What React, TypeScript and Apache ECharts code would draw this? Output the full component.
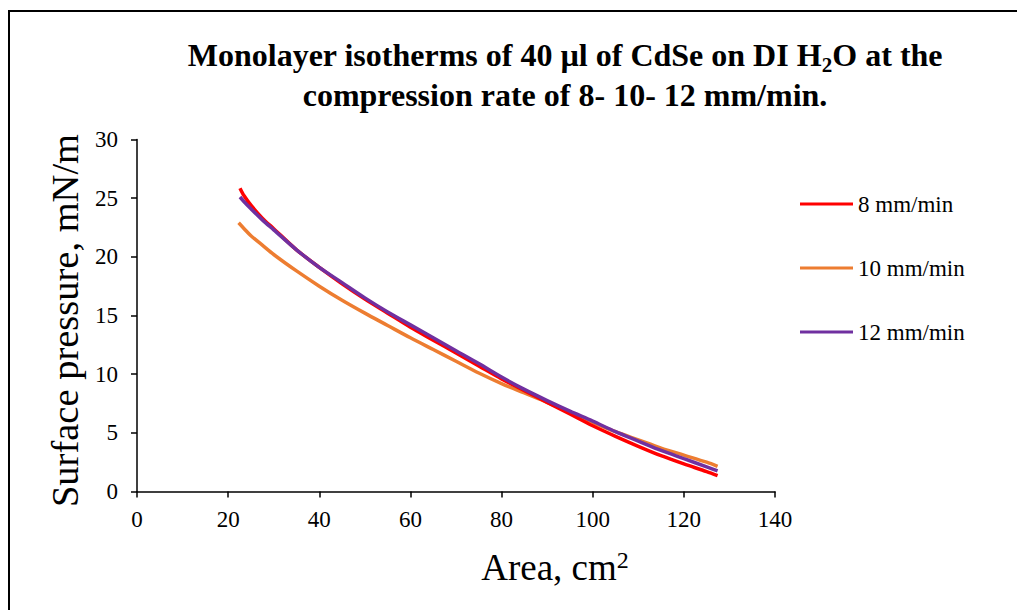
import React, { useEffect, useRef } from "react";
import * as echarts from "echarts";

const FONT = "'Liberation Serif', 'Times New Roman', serif";

const seriesNames = ["8 mm/min", "10 mm/min", "12 mm/min"];
const seriesColors = ["#FF0000", "#ED7D31", "#7030A0"];

const areaRed = [22.6, 23.5, 25, 27.5, 30, 35, 40, 45, 50, 55, 60, 65, 70, 75, 80, 85, 90, 95, 100, 105, 110, 115, 120, 125, 127.4];
const pressureRed = [25.85, 25.2, 24.4, 23.3, 22.4, 20.6, 19.1, 17.7, 16.4, 15.2, 14.0, 12.9, 11.8, 10.7, 9.6, 8.6, 7.6, 6.6, 5.6, 4.7, 3.85, 3.05, 2.35, 1.7, 1.35];

const areaOrange = [22.3, 23.5, 25, 27.5, 30, 35, 40, 45, 50, 55, 60, 65, 70, 75, 80, 85, 90, 95, 100, 105, 110, 115, 120, 125, 127.4];
const pressureOrange = [22.9, 22.4, 21.8, 21.0, 20.2, 18.8, 17.5, 16.3, 15.2, 14.15, 13.1, 12.1, 11.1, 10.1, 9.2, 8.4, 7.6, 6.75, 5.9, 5.1, 4.4, 3.7, 3.1, 2.5, 2.15];

const areaPurple = [22.6, 23.5, 25, 27.5, 30, 35, 40, 45, 50, 55, 60, 65, 70, 75, 80, 85, 90, 95, 100, 105, 110, 115, 120, 125, 127.4];
const pressurePurple = [25.1, 24.7, 24.1, 23.15, 22.3, 20.6, 19.1, 17.8, 16.5, 15.3, 14.2, 13.1, 12.0, 10.9, 9.75, 8.7, 7.75, 6.85, 6.0, 5.1, 4.3, 3.5, 2.8, 2.1, 1.75];

const xTicks = { min: 0, max: 140, interval: 20 };
const yTicks = { min: 0, max: 30, interval: 5 };

const titleLine1 = ["Monolayer isotherms of 40 µl of CdSe on DI H", "2", "O at the"];
const titleLine2 = "compression rate of 8- 10- 12 mm/min.";
const xName = ["Area, cm", "2"];
const yName = "Surface pressure, mN/m";

function pairs(xs: number[], ys: number[]) {
  return xs.map((x, i) => [x, ys[i]]);
}

export default function App() {
  const ref = useRef<HTMLDivElement>(null);
  useEffect(() => {
    if (!ref.current) return;
    const chart = echarts.init(ref.current, undefined, { renderer: "svg" });
    const dataSets = [
      pairs(areaRed, pressureRed),
      pairs(areaOrange, pressureOrange),
      pairs(areaPurple, pressurePurple),
    ];
    chart.setOption({
      animation: false,
      backgroundColor: "#ffffff",
      title: {
        text:
          "{b|" + titleLine1[0] + "}{s|" + titleLine1[1] + "}{b|" + titleLine1[2] + "}\n{b|" + titleLine2 + "}",
        left: 565,
        top: 35,
        padding: 0,
        textAlign: "center",
        textStyle: {
          fontFamily: FONT,
          fontWeight: "bold",
          fontSize: 32,
          color: "#000",
          lineHeight: 40,
          rich: {
            b: { fontFamily: FONT, fontWeight: "bold", fontSize: 32, color: "#000", lineHeight: 40 },
            s: {
              fontFamily: FONT,
              fontWeight: "bold",
              fontSize: 21,
              color: "#000",
              lineHeight: 22,
              verticalAlign: "bottom",
            },
          },
        },
      },
      legend: {
        orient: "vertical",
        left: 795,
        top: 187,
        itemWidth: 53,
        itemHeight: 3,
        itemGap: 40,
        itemTextGap: 5,
        icon: "rect",
        textStyle: { fontFamily: FONT, fontSize: 23, color: "#000", lineHeight: 24 },
        data: seriesNames,
      },
      grid: { left: 137, right: 242, top: 139.5, bottom: 118.5, containLabel: false },
      xAxis: {
        type: "value",
        min: xTicks.min,
        max: xTicks.max,
        interval: xTicks.interval,
        name: "{a|" + xName[0] + "}{p|" + xName[1] + "}",
        nameLocation: "middle",
        nameGap: 56,
        nameTextStyle: {
          padding: [0, 0, 0, 198],
          rich: {
            a: { fontFamily: FONT, fontSize: 37, color: "#000", lineHeight: 40 },
            p: { fontFamily: FONT, fontSize: 24, color: "#000", lineHeight: 40, verticalAlign: "top", padding: [0, 0, 14, 0] },
          },
        },
        axisLine: { show: true, onZero: false, lineStyle: { color: "#000", width: 1.5 } },
        axisTick: { show: true, inside: false, length: 6, lineStyle: { color: "#000", width: 1.5 } },
        axisLabel: { fontFamily: FONT, fontSize: 23, color: "#000", margin: 16 },
        splitLine: { show: false },
      },
      yAxis: {
        type: "value",
        min: yTicks.min,
        max: yTicks.max,
        interval: yTicks.interval,
        name: yName,
        nameLocation: "middle",
        nameGap: 48,
        nameTextStyle: { fontFamily: FONT, fontSize: 38.5, color: "#000", padding: [0, 10, 0, 0] },
        axisLine: { show: true, lineStyle: { color: "#000", width: 1.5 } },
        axisTick: { show: true, inside: false, length: 6, lineStyle: { color: "#000", width: 1.5 } },
        axisLabel: { fontFamily: FONT, fontSize: 23, color: "#000", margin: 19 },
        splitLine: { show: false },
      },
      series: seriesNames.map((name, i) => ({
        name,
        type: "line",
        data: dataSets[i],
        smooth: 0.3,
        showSymbol: false,
        symbol: "none",
        z: i === 1 ? 2 : i === 0 ? 3 : 4,
        itemStyle: { color: seriesColors[i] },
        lineStyle: { color: seriesColors[i], width: 3.5 },
      })),
      graphic: [
        {
          type: "rect",
          shape: { x: 9, y: 11, width: 1040, height: 640 },
          style: { fill: "none", stroke: "#000", lineWidth: 2 },
          silent: true,
          z: 100,
        },
      ],
    });
    return () => chart.dispose();
  }, []);
  return (
    <div
      ref={ref}
      style={{ position: "fixed", left: 0, top: 0, width: 1017, height: 610, background: "#fff" }}
    />
  );
}
